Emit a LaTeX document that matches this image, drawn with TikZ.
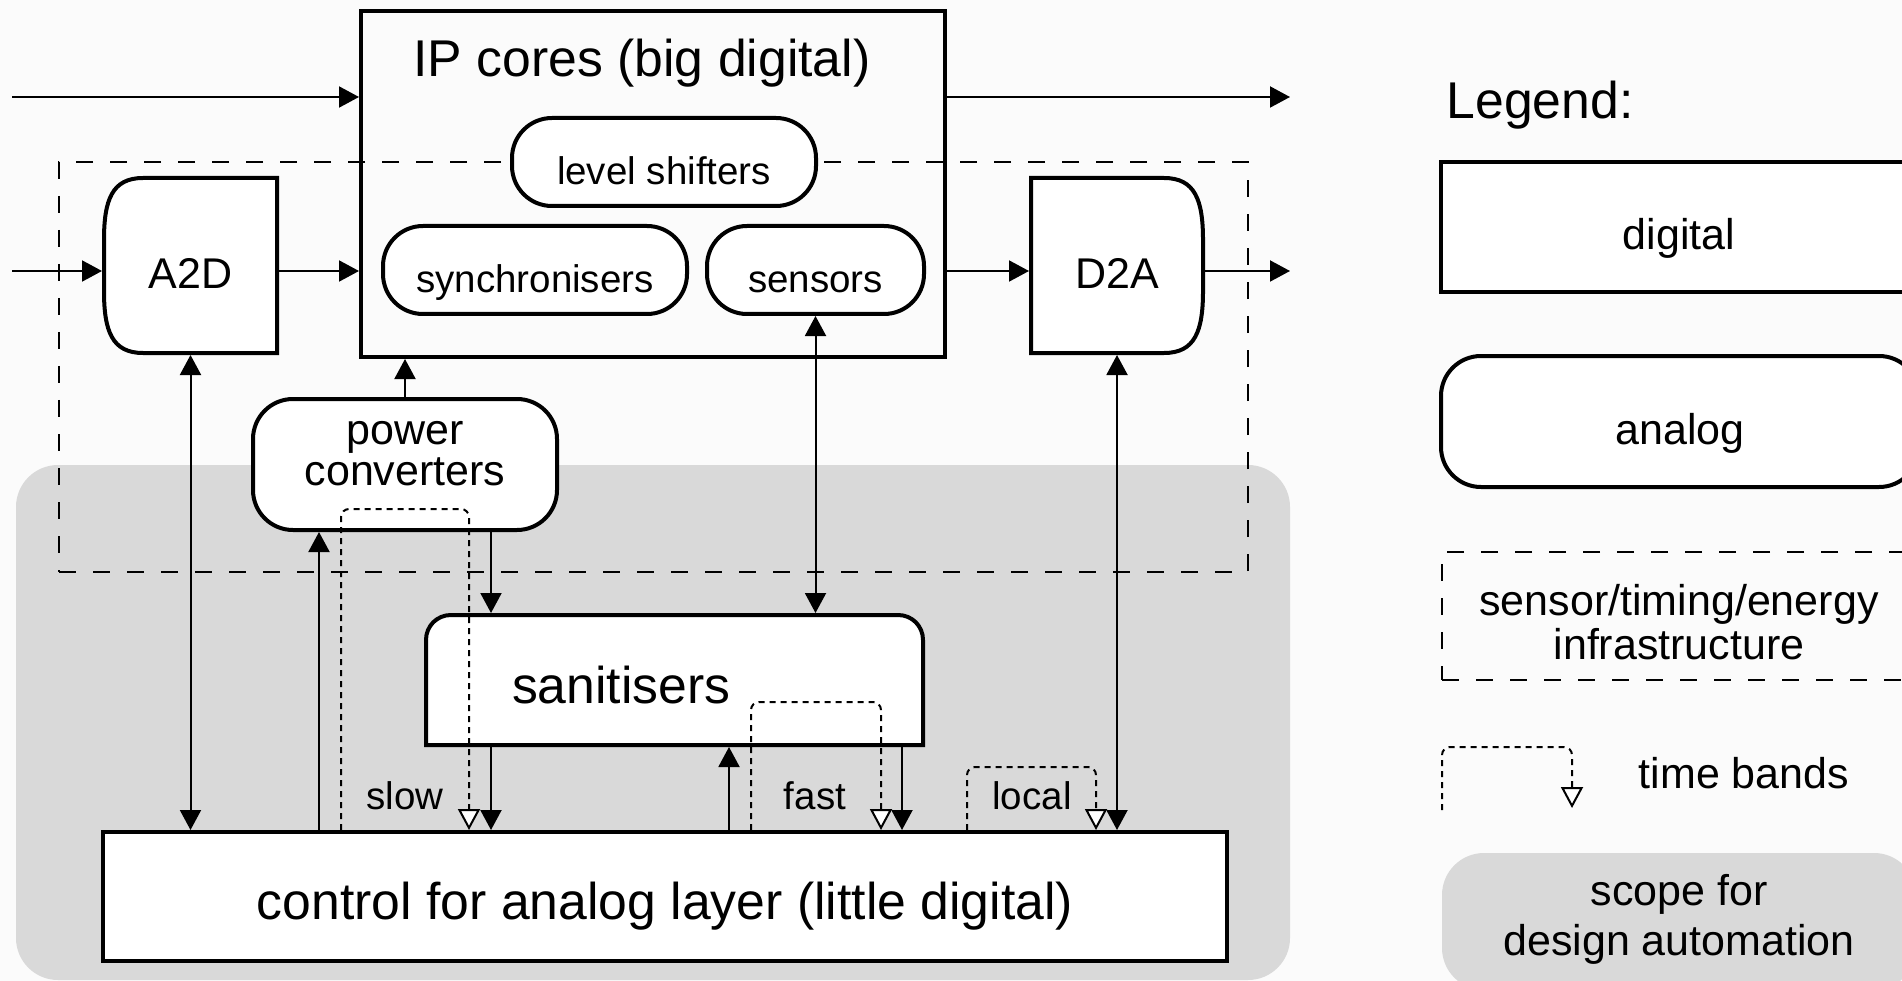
\documentclass[tikz,border=0pt]{standalone}
\usepackage{fontspec}
\setmainfont{Liberation Sans}
\usetikzlibrary{ arrows.meta, % For the filled and open triangle tips
                 positioning,
               }
\definecolor{scopegray}{HTML}{D9D9D9}
\definecolor{paper}{HTML}{FBFBFB}
\newcommand{\fontbig}{\fontsize{51.7}{56}\selectfont}
\newcommand{\fontmid}{\fontsize{43}{44}\selectfont}
\newcommand{\fontsmall}{\fontsize{38.5}{42}\selectfont}

\tikzstyle{digital} = [rectangle, draw=black, line width=4pt, fill=white, inner sep=0pt, text height=46pt, text depth=0pt]
\tikzstyle{analog} = [digital, rounded corners=40pt]
\tikzstyle{shaped} = [rectangle, inner sep=0pt, outer sep=2pt, text height=46pt, text depth=0pt]
\tikzstyle{outline} = [draw=black, line width=4pt, fill=white]
\tikzstyle{infra} = [rectangle, draw=black, line width=2.5pt, dash pattern=on 17pt off 17pt]
\tikzstyle{scopebox} = [rectangle, fill=scopegray, rounded corners=42pt]
\tikzstyle{link} = [line width=2pt, >={Triangle[length=20pt, width=21pt]}]
\tikzstyle{band} = [line width=2pt, dash pattern=on 6pt off 5pt, rounded corners=8pt, -{Triangle[open, fill=white, length=21pt, width=22pt]}]

\begin{document}
\begin{tikzpicture}[x=1pt, y=-1pt]
  \useasboundingbox (0,0) rectangle (1902,981);
  \clip (0,0) rectangle (1902,981);
  \fill [paper] (0,0) rectangle (1902,981);

  % scope for design automation, infrastructure around it
  \node (scope) [scopebox, minimum width=1274pt, minimum height=515pt] at (653, 722.5) {};
  \node (infra) [infra, minimum width=1189pt, minimum height=410pt] at (653.5, 367) {};

  \node (ip) [digital, fill=none, minimum width=584pt, minimum height=346pt] at (653, 184) {};
  \node (iptitle) [anchor=base, font=\fontbig] at (642, 77) {IP cores (big digital)};
  \node (ls) [analog, font=\fontsmall, minimum width=304pt, minimum height=88pt] at (664, 162) {level shifters};
  \node (sync) [analog, font=\fontsmall, minimum width=304pt, minimum height=88pt] at (535, 270) {synchronisers};
  \node (sens) [analog, font=\fontsmall, minimum width=217pt, minimum height=88pt] at (815.5, 270) {sensors};

  \draw [outline] (277,178) -- (143,178) .. controls (112,178) and (104,200) .. (104,240)
    -- (104,291) .. controls (104,331) and (112,353) .. (143,353) -- (277,353) -- cycle;
  \node (a2d) [shaped, font=\fontmid, minimum width=173pt, minimum height=175pt] at (190.5, 265.5) {A2D};
  \draw [outline] (1031,178) -- (1164,178) .. controls (1195,178) and (1203,200) .. (1203,240)
    -- (1203,291) .. controls (1203,331) and (1195,353) .. (1164,353) -- (1031,353) -- cycle;
  \node (d2a) [shaped, font=\fontmid, minimum width=172pt, minimum height=175pt] at (1117, 265.5) {D2A};

  \node (pc) [analog, font=\fontmid, align=center, text height=42pt, minimum width=304pt, minimum height=131pt] at (405, 464.5) {power\\[-3pt]converters};

  \draw [outline] (426,745) -- (426,640) .. controls (426,626) and (437,615) .. (451,615)
    -- (898,615) .. controls (912,615) and (923,626) .. (923,640) -- (923,745) -- cycle;
  \node (san) [shaped, font=\fontbig, text width=325pt, inner xsep=86pt, align=left, minimum height=130pt] at (674.5, 680) {sanitisers};

  \node (ctrl) [digital, font=\fontbig, minimum width=1124pt, minimum height=129pt] at (665, 896.5) {control for analog layer (little digital)};

  % signals in and out
  \coordinate (in1) at (12, 97);
  \coordinate (in2) at (12, 271);
  \coordinate (out1) at (1290, 97);
  \coordinate (out2) at (1290, 271);
  \draw [link, ->] (in1) -- (in1 -| ip.west);
  \draw [link, ->] (in2) -- (in2 -| a2d.west);
  \draw [link, ->] (in2 -| a2d.east) -- (in2 -| ip.west);
  \draw [link, ->] (out1 -| ip.east) -- (out1);
  \draw [link, ->] (out2 -| ip.east) -- (out2 -| d2a.west);
  \draw [link, ->] (out2 -| d2a.east) -- (out2);

  \draw [link, <->] (a2d.south) -- (a2d.south |- ctrl.north);
  \draw [link, <->] (d2a.south) -- (d2a.south |- ctrl.north);
  \draw [link, <->] (sens.south) -- (sens.south |- san.north);
  \draw [link, ->] (pc.north) -- (pc.north |- ip.south);
  \draw [link, ->] (319,0 |- ctrl.north) -- (319,0 |- pc.south);
  \draw [link, ->] (491,0 |- pc.south) -- (491,0 |- san.north);
  \draw [link, ->] (491,0 |- san.south) -- (491,0 |- ctrl.north);
  \draw [link, ->] (729,0 |- ctrl.north) -- (729,0 |- san.south);
  \draw [link, ->] (902,0 |- san.south) -- (902,0 |- ctrl.north);

  % time bands
  \draw [band] (341,0 |- ctrl.north) |- (469,509) -- (469,0 |- ctrl.north);
  \draw [band] (751,0 |- ctrl.north) |- (881,702) -- (881,0 |- ctrl.north);
  \draw [band] (967,0 |- ctrl.north) |- (1096,767) -- (1096,0 |- ctrl.north);
  \node (slow) [anchor=base, font=\fontsmall] at (405, 809) {slow};
  \node (fast) [anchor=base, font=\fontsmall] at (815, 809) {fast};
  \node (local) [anchor=base, font=\fontsmall] at (1032, 809) {local};

  % legend
  \node (legend) [anchor=base west, font=\fontbig] at (1443, 119) {Legend:};
  \node (ldig) [digital, font=\fontmid, minimum width=476pt, minimum height=130pt] at (1679, 227) {digital};
  \node (lana) [analog, font=\fontmid, minimum width=478pt, minimum height=131pt] at (1680, 421.5) {analog};
  \node (linfra) [infra, font=\fontmid, align=center, text height=86pt, text depth=0pt, minimum width=474pt, minimum height=128pt] at (1679, 616) {sensor/timing/energy\\infrastructure};
  \coordinate (lbandA) at (1442, 810);
  \coordinate (lbandB) at (1572, 808);
  \draw [band] (lbandA) |- (1572, 747) -- (lbandB);
  \node (lbands) [anchor=base, font=\fontmid] at (1744, 788) {time bands};
  \node (lscope) [scopebox, font=\fontmid, align=center, text height=68pt, text depth=0pt, minimum width=474pt, minimum height=137pt] at (1679, 921.5) {scope for\\[6pt]design automation};
\end{tikzpicture}
\end{document}
